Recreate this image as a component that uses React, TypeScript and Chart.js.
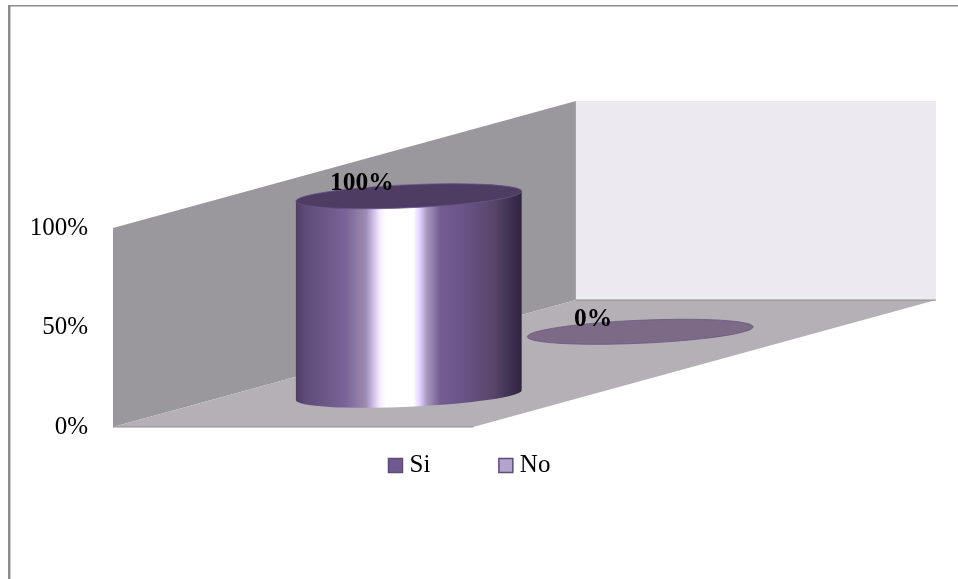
import React, { useEffect, useRef } from "react";
import { Chart, BarController, BarElement, LinearScale, Legend } from "chart.js";

// Survey answers, one cylinder per series along the depth of the floor
const seriesNames = ["Si", "No"];
const seriesValues = [100, 0];
const depthPositions = [0.25, 0.75];
const valueTicks = [0, 50, 100];

const FONT_FAMILY = "'Liberation Serif', serif";
const FONT_SIZE = 25;

const seriesFill = ["#6F5A8E", "#B3A4CC"];
const seriesEdge = ["#5F4A7C", "#5F4A7C"];
const capFill = ["#4F3C63", "#7C6A87"];

// Horizontal sheen across a cylinder body
const sheenStops: [number, string][] = [
  [0, "#4E3D62"],
  [0.04, "#5E4A78"],
  [0.22, "#7A6498"],
  [0.31, "#9C8BB0"],
  [0.34, "#C8B8E4"],
  [0.37, "#F5E8FF"],
  [0.4, "#FFFFFF"],
  [0.52, "#FFFFFF"],
  [0.55, "#E0D0FF"],
  [0.58, "#A898C0"],
  [0.64, "#745C90"],
  [0.74, "#6A5488"],
  [0.88, "#574468"],
  [0.96, "#3A2E4C"],
  [1, "#2E2440"],
];

const WALL_SIDE = "#9A989C";
const WALL_BACK = "#ECE9F0";
const FLOOR = "#B4B0B5";
const FRAME = "#8C8C8C";

// Vertical rise of the floor per pixel of depth
const DEPTH_RISE = 127 / 463;
const CAP_HALF_HEIGHT = 11.5;
const CAP_TILT = -0.044;
const BAR_WIDTH = 226;

class CylinderElement extends BarElement {
  static id = "cylinder";
  static defaults = { ...BarElement.defaults, capColor: "#000000" };
  depthShift = 0;

  draw(ctx: CanvasRenderingContext2D) {
    const { x, y, base, width, options } = this as any;
    const shift = this.depthShift;
    const a = width / 2;
    const top = y - shift;
    const bottom = base - shift;
    ctx.save();
    if (bottom - top > 0.5) {
      const g = ctx.createLinearGradient(x - a, 0, x + a, 0);
      sheenStops.forEach(([p, c]) => g.addColorStop(p, c));
      ctx.beginPath();
      ctx.ellipse(x, bottom, a, CAP_HALF_HEIGHT, CAP_TILT, 0, Math.PI);
      ctx.ellipse(x, top, a, CAP_HALF_HEIGHT, CAP_TILT, Math.PI, Math.PI * 2);
      ctx.closePath();
      ctx.fillStyle = g;
      ctx.fill();
    }
    ctx.beginPath();
    ctx.ellipse(x, top, a, CAP_HALF_HEIGHT, CAP_TILT, 0, Math.PI * 2);
    ctx.fillStyle = options.capColor;
    ctx.fill();
    ctx.lineWidth = 0.8;
    ctx.strokeStyle = bottom - top > 0.5 ? "#6A5488" : "#6A5784";
    ctx.stroke();
    ctx.restore();
  }
}

class CylinderController extends BarController {
  static id = "cylinder";
  static defaults = { ...BarController.defaults, dataElementType: "cylinder" };
  static overrides = BarController.overrides;

  draw() {
    const meta = this.getMeta();
    const origin = meta.xScale!.getPixelForValue(0);
    meta.data.forEach((el: any) => {
      el.depthShift = (el.x - origin) * DEPTH_RISE;
    });
    super.draw();
  }
}

Chart.register(CylinderController, CylinderElement, LinearScale, Legend);

// Outer frame, open towards the right and bottom of the page
const framePlugin = {
  id: "frame",
  beforeDraw(chart: any) {
    const { ctx, width, height } = chart;
    ctx.save();
    ctx.fillStyle = FRAME;
    ctx.fillRect(8, 5, 2.5, height - 5);
    ctx.fillRect(8, 5, width - 8, 1.5);
    ctx.restore();
  },
};

// Side wall, back wall and floor built from the axis positions
const roomPlugin = {
  id: "room",
  beforeDatasetsDraw(chart: any) {
    const { ctx, chartArea, scales } = chart;
    const y0 = scales.y.getPixelForValue(0);
    const y1 = scales.y.getPixelForValue(100);
    const x0 = scales.x.getPixelForValue(0);
    const depth = scales.x.getPixelForValue(1) - x0;
    const rise = depth * DEPTH_RISE;
    const { left, right } = chartArea;
    const frontRight = left + 2 * (x0 - left);
    const poly = (pts: number[][], fill: string) => {
      ctx.beginPath();
      pts.forEach(([px, py], i) => (i ? ctx.lineTo(px, py) : ctx.moveTo(px, py)));
      ctx.closePath();
      ctx.fillStyle = fill;
      ctx.fill();
    };
    ctx.save();
    poly(
      [[left + depth, y1 - rise], [right, y1 - rise], [right, y0 - rise], [left + depth, y0 - rise]],
      WALL_BACK,
    );
    poly(
      [[left, y0], [left, y1], [left + depth, y1 - rise], [left + depth, y0 - rise]],
      WALL_SIDE,
    );
    poly(
      [[left, y0], [left + depth, y0 - rise], [right, y0 - rise], [frontRight, y0]],
      FLOOR,
    );
    ctx.strokeStyle = "#8E8C90";
    ctx.lineWidth = 1;
    ctx.beginPath();
    ctx.moveTo(left, y0);
    ctx.lineTo(frontRight, y0);
    ctx.moveTo(right, y0 - rise);
    ctx.lineTo(left + depth, y0 - rise);
    ctx.stroke();
    ctx.restore();
  },
};

// Bold value captions next to each cylinder's cap
const valueLabelPlugin = {
  id: "valueLabels",
  afterDatasetsDraw(chart: any) {
    const { ctx } = chart;
    ctx.save();
    ctx.fillStyle = "#000000";
    ctx.font = `bold 25.5px ${FONT_FAMILY}`;
    ctx.textAlign = "center";
    ctx.textBaseline = "middle";
    chart.data.datasets.forEach((ds: any, i: number) => {
      const el: any = chart.getDatasetMeta(i).data[0];
      ctx.fillText(`${ds.data[0].y}%`, el.x - 47, el.y - el.depthShift - 12.5);
    });
    ctx.restore();
  },
};

// Places the legend row under the floor, independent of its reserved box
const legendPlacementPlugin = {
  id: "legendPlacement",
  afterLayout(chart: any) {
    const legend = chart.legend;
    const padding = legend.options.labels.padding;
    legend.left = -7;
    legend.right = 951.4;
    legend.top = 453 - padding;
    legend.bottom = legend.top + 2 * padding + FONT_SIZE + 10;
    legend.width = legend.right - legend.left;
  },
};

export default function App() {
  const ref = useRef<HTMLCanvasElement>(null);

  useEffect(() => {
    const chart = new Chart(ref.current!, {
      type: "cylinder" as any,
      data: {
        datasets: seriesNames.map((label, i) => ({
          label,
          data: [{ x: depthPositions[i], y: seriesValues[i] }],
          backgroundColor: seriesFill[i],
          borderColor: seriesEdge[i],
          borderWidth: 1.5,
          capColor: capFill[i],
          barThickness: BAR_WIDTH,
          grouped: false,
          clip: false,
        })) as any,
      },
      options: {
        animation: false,
        responsive: false,
        events: [],
        layout: {
          autoPadding: false,
          padding: { left: 0, top: 228, right: 22, bottom: 120 },
        },
        scales: {
          x: { type: "linear", display: false, min: -0.389, max: 1.389, offset: false },
          y: {
            type: "linear",
            min: 0,
            max: 100,
            afterFit: (scale: any) => {
              scale.width = 113;
            },
            afterBuildTicks: (scale: any) => {
              scale.ticks = valueTicks.map((value) => ({ value }));
            },
            grid: { display: false, drawTicks: false },
            border: { display: false },
            ticks: {
              padding: 25,
              color: "#000000",
              font: { family: FONT_FAMILY, size: FONT_SIZE },
              callback: (v: any) => `${v}%`,
            },
          },
        },
        plugins: {
          legend: {
            display: true,
            position: "bottom",
            maxHeight: 32,
            labels: {
              usePointStyle: true,
              pointStyle: "rect",
              boxWidth: 3,
              boxHeight: 14,
              padding: 74,
              color: "#000000",
              font: { family: FONT_FAMILY, size: FONT_SIZE },
            },
          },
        },
      } as any,
      plugins: [framePlugin, roomPlugin, valueLabelPlugin, legendPlacementPlugin],
    });
    return () => chart.destroy();
  }, []);

  return (
    <canvas
      ref={ref}
      width={958}
      height={579}
      style={{ position: "fixed", left: 0, top: 0, display: "block" }}
    />
  );
}
